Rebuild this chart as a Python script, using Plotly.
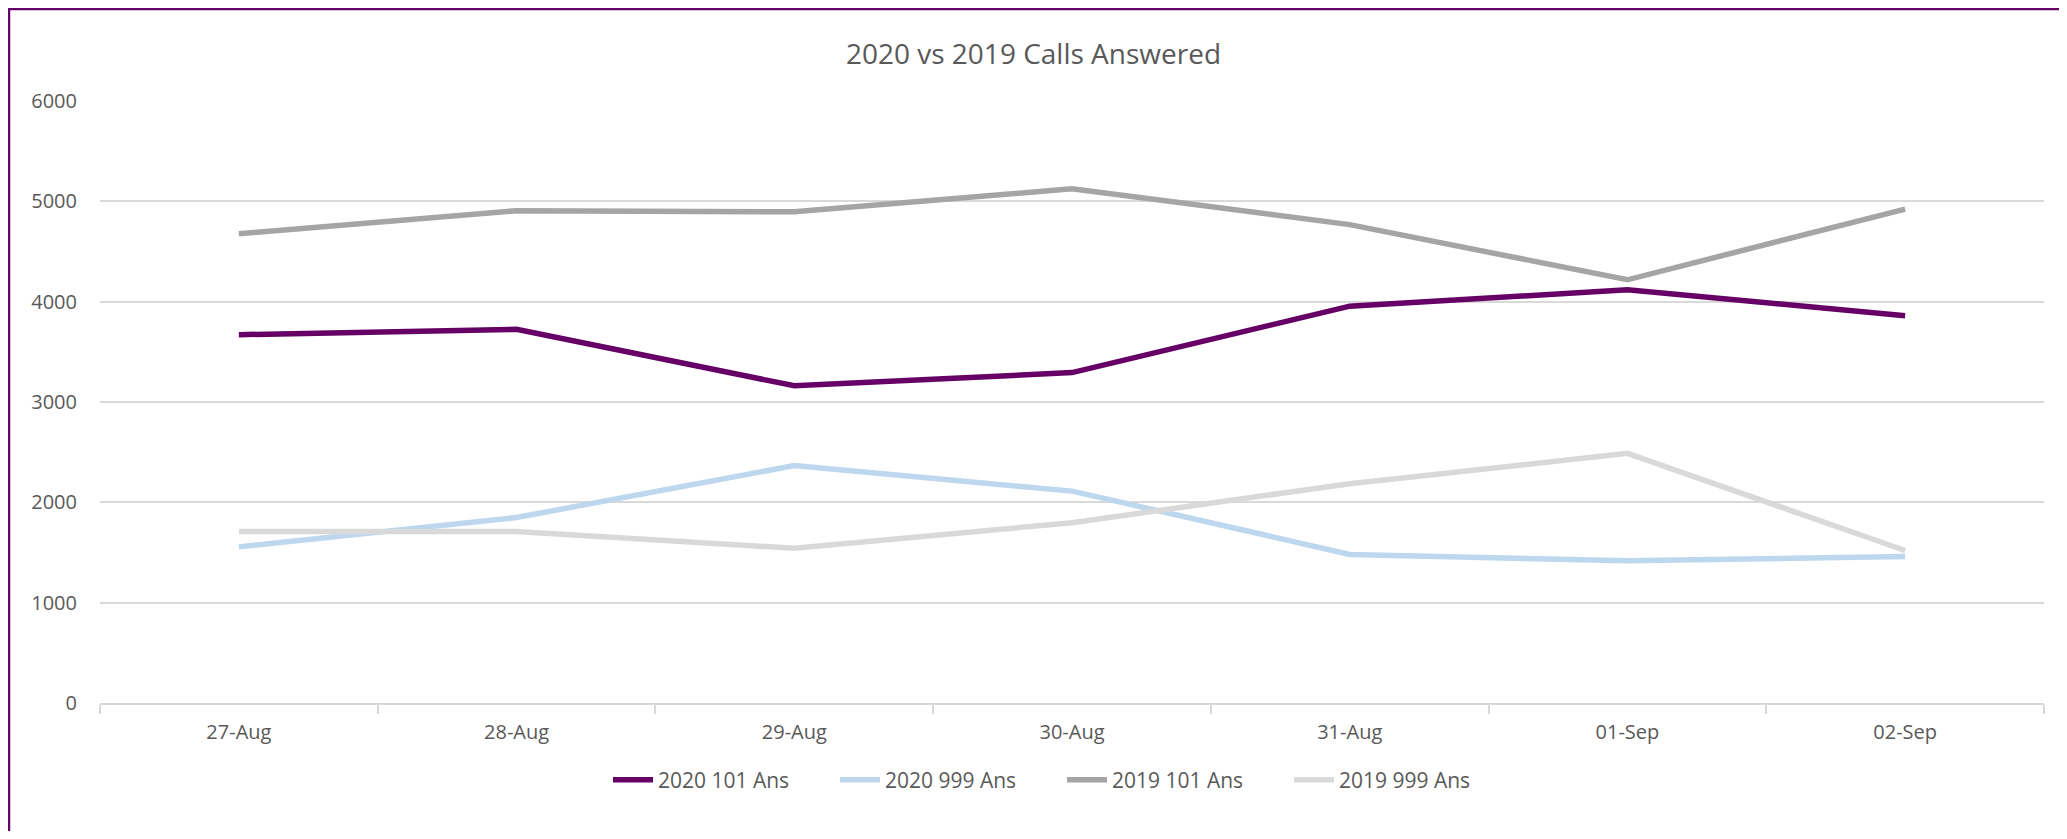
import plotly.graph_objects as go

dates = ["27-Aug", "28-Aug", "29-Aug", "30-Aug", "31-Aug", "01-Sep", "02-Sep"]
s2020_101 = [3671, 3724, 3162, 3293, 3955, 4118, 3860]
s2020_999 = [1556, 1849, 2366, 2112, 1481, 1417, 1460]
s2019_101 = [4678, 4907, 4896, 5125, 4768, 4218, 4923]
s2019_999 = [1710, 1710, 1542, 1797, 2186, 2488, 1520]

series = [
    ("2020 101 Ans", s2020_101, "#660066"),
    ("2020 999 Ans", s2020_999, "#BDD7EE"),
    ("2019 101 Ans", s2019_101, "#A5A5A5"),
    ("2019 999 Ans", s2019_999, "#D9D9D9"),
]

OFF = 8  # page body margin
W, H = 2051, 823
L, R, T, B = 92, 15, 93, 128

fig = go.Figure()
for name, vals, col in series:
    fig.add_trace(go.Scatter(x=dates, y=vals, name=name, mode="lines",
                             line=dict(color=col, width=5.5)))

pw = W - L - R
ph = H - T - B

def px_x(p):
    return (p - OFF - L) / pw

def px_y(p):
    return (H - B - (p - OFF)) / ph

fig.update_layout(
    width=W, height=H,
    margin=dict(l=L, r=R, t=T, b=B),
    paper_bgcolor="white", plot_bgcolor="white",
    font=dict(family="Open Sans", color="#595959", size=20),
    title=dict(text="2020 vs 2019 Calls Answered", x=0.5, xanchor="center",
               y=1 - (54 - OFF) / H, yanchor="middle",
               font=dict(size=28, color="#595959")),
    showlegend=True,
    legend=dict(orientation="h", x=px_x(1062), xanchor="center", y=px_y(780),
                yanchor="middle", font=dict(size=21, color="#595959"),
                itemwidth=40, traceorder="normal", entrywidth=172),
    xaxis=dict(type="category", range=[-0.5, 6.5], showgrid=False,
               showline=True, linecolor="#D9D9D9", linewidth=1.5,
               ticks="outside", tickson="boundaries", ticklen=9,
               tickcolor="#D9D9D9", tickwidth=1.5, ticklabelstandoff=10,
               tickfont=dict(size=20, color="#595959"), fixedrange=True),
    yaxis=dict(range=[0, 6000], dtick=1000, showgrid=True,
               gridcolor="#D9D9D9", gridwidth=1.5, zeroline=False,
               showline=False, ticks="", ticklabelstandoff=22,
               tickfont=dict(size=20, color="#595959"), fixedrange=True),
    shapes=[dict(type="rect", xref="paper", yref="paper",
                 x0=px_x(9), x1=px_x(2067 + 30), y0=px_y(839 + 30), y1=px_y(9),
                 line=dict(color="#660066", width=2.5), layer="above")],
)

fig.write_html("out.html")
